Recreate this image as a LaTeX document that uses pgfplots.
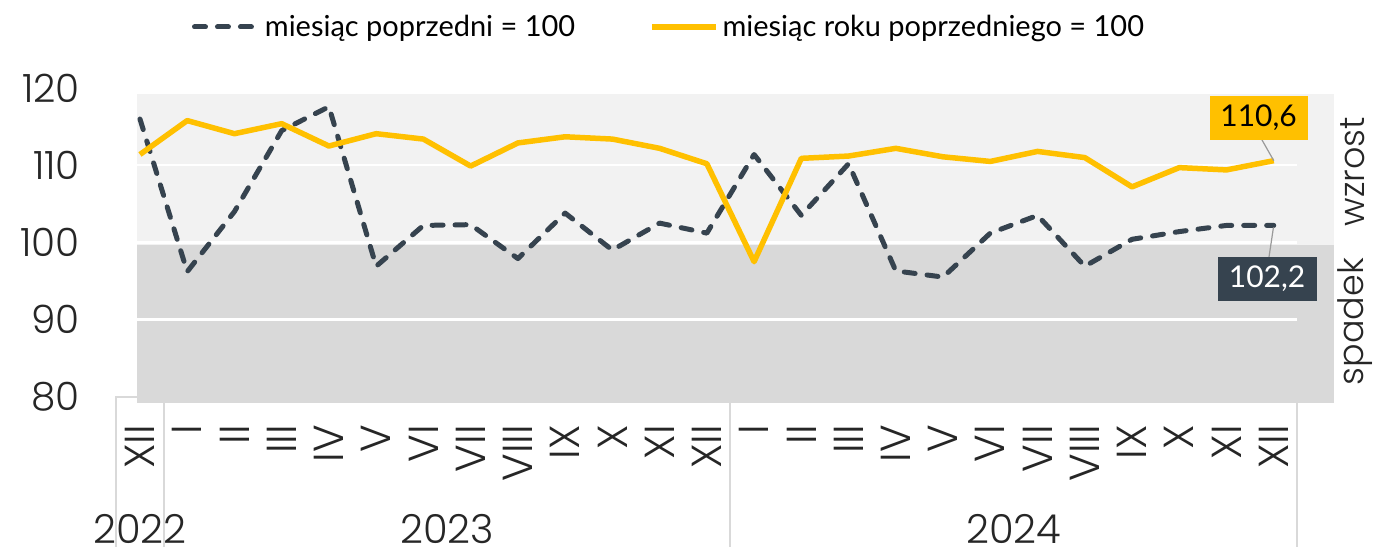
\documentclass[border=0pt]{standalone}
\usepackage{fontspec}
\setmainfont{Lato}
\newfontfamily\tickfont{Poppins Light}
\usepackage{pgfplots}
\usepackage{pgfplotstable}
\pgfplotsset{compat=1.18}

\definecolor{darkser}{HTML}{36434F}
\definecolor{goldser}{HTML}{FFC000}
\definecolor{bglight}{HTML}{F2F2F2}
\definecolor{bgdark}{HTML}{D9D9D9}
\definecolor{sepline}{HTML}{D9D9D9}
\definecolor{txt}{HTML}{262626}

% x: 0 = XII 2022 ... 24 = XII 2024
% mm = miesiac poprzedni = 100, yy = miesiac roku poprzedniego = 100
\pgfplotstableread{
x  mm    yy
0  116.0 111.4
1  96.2  115.8
2  104.0 114.1
3  114.5 115.4
4  117.6 112.5
5  96.9  114.1
6  102.2 113.4
7  102.3 109.9
8  97.9  112.9
9  103.8 113.7
10 99.0  113.4
11 102.5 112.2
12 101.2 110.2
13 111.4 97.5
14 103.5 110.9
15 110.2 111.2
16 96.3  112.2
17 95.5  111.1
18 101.2 110.5
19 103.5 111.8
20 96.9  111.0
21 100.4 107.2
22 101.4 109.7
23 102.2 109.4
24 102.2 110.6
}\datatable

\begin{document}
\begin{tikzpicture}
\begin{axis}[
    scale only axis,
    width=591pt,
    height=157.4pt,
    xmin=-0.5, xmax=24.5,
    ymin=79.2, ymax=120,
    clip=false,
    axis line style={draw=none},
    tick style={draw=none},
    xtick={0,...,24},
    xticklabels={XII,I,II,III,IV,V,VI,VII,VIII,IX,X,XI,XII,I,II,III,IV,V,VI,VII,VIII,IX,X,XI,XII},
    xticklabel style={font=\tickfont\fontsize{21}{21}\selectfont, text=txt, rotate=90, anchor=east, inner sep=0pt},
    xticklabel shift=11pt,
    ytick={80,90,...,120},
    yticklabel style={font=\tickfont\fontsize{19.5}{19.5}\selectfont, text=txt, inner sep=0pt},
    yticklabel shift=18pt,
    /pgf/number format/assume math mode=true,
    legend columns=2,
    legend style={draw=none, fill=none, at={(0.4688,1.1946)}, anchor=center,
        font=\fontsize{14.5}{14.5}\selectfont, text=black,
        /tikz/every even column/.append style={column sep=35pt}},
    legend image code/.code={\draw[#1] (0pt,0pt) -- (32pt,0pt);},
]
% background bands
\fill[bglight] (axis cs:-0.06,99.7) rectangle (axis cs:25.27,119.2);
\fill[bgdark] (axis cs:-0.06,79.2) rectangle (axis cs:25.27,99.7);
% gridlines
\draw[white, line width=1.2pt] (axis cs:-0.06,90) -- (axis cs:24.5,90);
\draw[white, line width=1.2pt] (axis cs:-0.06,100) -- (axis cs:24.5,100);
\draw[white, line width=1.2pt] (axis cs:-0.06,110) -- (axis cs:24.5,110);
% year separators
\draw[sepline, line width=1pt] (axis cs:-0.06,80) -- (axis cs:-0.5,80) -- (axis cs:-0.5,60.45);
\draw[sepline, line width=1pt] (axis cs:0.5,79.2) -- (axis cs:0.5,60.45);
\draw[sepline, line width=1pt] (axis cs:12.5,79.2) -- (axis cs:12.5,60.45);
\draw[sepline, line width=1pt] (axis cs:24.5,79.2) -- (axis cs:24.5,60.45);
% years
\node[font=\tickfont\fontsize{20}{20}\selectfont, text=txt, inner sep=0pt, anchor=base] at (axis cs:0,61.0) {2022};
\node[font=\tickfont\fontsize{20}{20}\selectfont, text=txt, inner sep=0pt, anchor=base] at (axis cs:6.5,61.0) {2023};
\node[font=\tickfont\fontsize{20}{20}\selectfont, text=txt, inner sep=0pt, anchor=base] at (axis cs:18.5,61.0) {2024};
% side labels
\node[rotate=90, inner sep=0pt, anchor=base, font=\tickfont\fontsize{17.5}{17.5}\selectfont, text=txt] at (axis cs:25.93,109.16) {wzrost};
\node[rotate=90, inner sep=0pt, anchor=base, font=\tickfont\fontsize{17.5}{17.5}\selectfont, text=txt] at (axis cs:25.91,89.73) {spadek};

\addplot[darkser, line width=2.5pt, dash pattern=on 5.5pt off 6pt, line cap=round, line join=round] table[x=x, y=mm] {\datatable};
\addlegendentry{miesiąc poprzedni = 100}
\addplot[goldser, line width=2.75pt, line join=round] table[x=x, y=yy] {\datatable};
\addlegendentry{miesiąc roku poprzedniego = 100}

% callouts
\draw[gray!80, line width=0.6pt] (axis cs:23.75,113.3) -- (axis cs:24,110.6);
\node[fill=goldser, inner sep=0pt, minimum width=49pt, minimum height=22pt, font=\fontsize{15}{15}\selectfont] at (axis cs:23.68,116.15) {110,6};
\draw[gray!80, line width=0.6pt] (axis cs:23.9,98.12) -- (axis cs:24,102.2);
\fill[darkser] (axis cs:24,102.2) circle (1pt);
\node[fill=darkser, text=white, inner sep=0pt, minimum width=49.5pt, minimum height=22pt, font=\fontsize{15}{15}\selectfont] at (axis cs:23.86,95.3) {102,2};
% page frame
\path (axis cs:-2.963,60.45) rectangle (axis cs:26.095,131.44);
\end{axis}
\end{tikzpicture}
\end{document}
